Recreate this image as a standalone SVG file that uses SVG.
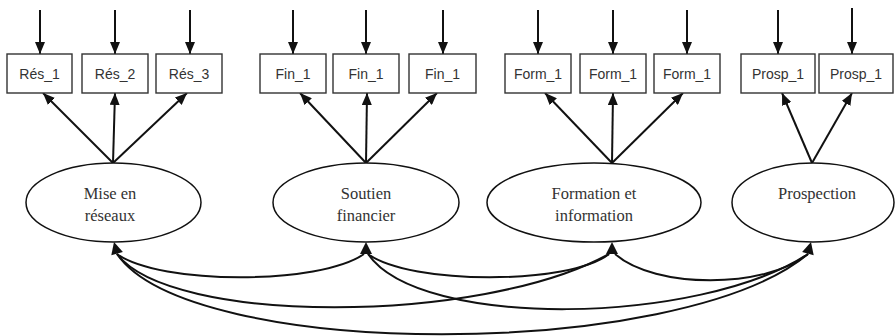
<svg xmlns="http://www.w3.org/2000/svg" xmlns:xlink="http://www.w3.org/1999/xlink" width="896" height="336" viewBox="0 0 896 336">
<style>
.box{fill:#fff;stroke:#333;stroke-width:1.4}
.lbl{font-family:"Liberation Sans",Arial,sans-serif;font-size:14px;fill:#333;text-anchor:middle}
.ell{fill:#fff;stroke:#111;stroke-width:1.5}
.elbl{font-family:"Liberation Serif","Times New Roman",serif;font-size:16.5px;fill:#333;text-anchor:middle}
.arr{stroke:#111;stroke-width:2;fill:none;marker-end:url(#ah)}
.cov{stroke:#111;stroke-width:2;fill:none}
.tri{fill:#111}
</style>
<defs>
<marker id="ah" viewBox="0 0 12 10" refX="12" refY="5" markerWidth="12" markerHeight="10" orient="auto" markerUnits="userSpaceOnUse">
<path d="M0,0 L12,5 L0,10 z" fill="#111"/>
</marker>
<path id="head" d="M0,0 L-6,12 L6,12 z"/>
</defs>

<g id="connectors">
<!-- error arrows -->
<line class="arr" x1="40" y1="10" x2="40" y2="54"/>
<line class="arr" x1="115" y1="10" x2="115" y2="54"/>
<line class="arr" x1="190" y1="10" x2="190" y2="54"/>
<line class="arr" x1="293" y1="10" x2="293" y2="54"/>
<line class="arr" x1="366" y1="10" x2="366" y2="54"/>
<line class="arr" x1="443" y1="10" x2="443" y2="54"/>
<line class="arr" x1="538" y1="10" x2="538" y2="54"/>
<line class="arr" x1="613" y1="10" x2="613" y2="54"/>
<line class="arr" x1="687" y1="10" x2="687" y2="54"/>
<line class="arr" x1="778" y1="10" x2="778" y2="54"/>
<line class="arr" x1="852" y1="8" x2="852" y2="54"/>
<!-- loadings -->
<line class="arr" x1="113" y1="163" x2="43" y2="93"/>
<line class="arr" x1="113" y1="163" x2="115" y2="93"/>
<line class="arr" x1="113" y1="163" x2="187" y2="93"/>
<line class="arr" x1="366" y1="163" x2="300" y2="93"/>
<line class="arr" x1="366" y1="163" x2="367" y2="93"/>
<line class="arr" x1="366" y1="163" x2="437" y2="93"/>
<line class="arr" x1="612" y1="163" x2="545" y2="93"/>
<line class="arr" x1="612" y1="163" x2="613" y2="93"/>
<line class="arr" x1="612" y1="163" x2="683" y2="93"/>
<line class="arr" x1="812" y1="163" x2="782" y2="93"/>
<line class="arr" x1="812" y1="163" x2="852" y2="93"/>
<!-- covariances -->
<path class="cov" d="M117,254 C160,285 320,285 364,254"/>
<path class="cov" d="M368,254 C410,285 570,285 609,254"/>
<path class="cov" d="M615,254 C655,289 765,289 808,254"/>
<path class="cov" d="M117,254 C170,325 480,325 609,254"/>
<path class="cov" d="M368,254 C420,330 700,325 808,254"/>
<path class="cov" d="M117,254 C190,361 680,361 808,254"/>
<use xlink:href="#head" class="tri" transform="translate(114,242) rotate(-15)"/>
<use xlink:href="#head" class="tri" transform="translate(366,242)"/>
<use xlink:href="#head" class="tri" transform="translate(612,242)"/>
<use xlink:href="#head" class="tri" transform="translate(811,242) rotate(15)"/>
</g>

<g id="res1"><rect class="box" x="7" y="54" width="65" height="39"/><text class="lbl" x="39.5" y="79">Rés_1</text></g>
<g id="res2"><rect class="box" x="82" y="54" width="66" height="39"/><text class="lbl" x="115" y="79">Rés_2</text></g>
<g id="res3"><rect class="box" x="156" y="54" width="66" height="39"/><text class="lbl" x="189" y="79">Rés_3</text></g>
<g id="fin1"><rect class="box" x="260" y="54" width="66" height="39"/><text class="lbl" x="293" y="79">Fin_1</text></g>
<g id="fin2"><rect class="box" x="333" y="54" width="66" height="39"/><text class="lbl" x="366" y="79">Fin_1</text></g>
<g id="fin3"><rect class="box" x="409" y="54" width="67" height="39"/><text class="lbl" x="442.5" y="79">Fin_1</text></g>
<g id="form1"><rect class="box" x="505" y="54" width="66" height="39"/><text class="lbl" x="538" y="79">Form_1</text></g>
<g id="form2"><rect class="box" x="580" y="54" width="66" height="39"/><text class="lbl" x="613" y="79">Form_1</text></g>
<g id="form3"><rect class="box" x="654" y="54" width="66" height="39"/><text class="lbl" x="687" y="79">Form_1</text></g>
<g id="prosp1"><rect class="box" x="741" y="54" width="74" height="39"/><text class="lbl" x="778" y="79">Prosp_1</text></g>
<g id="prosp2"><rect class="box" x="819" y="54" width="74" height="39"/><text class="lbl" x="856" y="79">Prosp_1</text></g>

<g id="mise"><ellipse class="ell" cx="113.5" cy="202.5" rx="87.5" ry="39.5"/><text class="elbl" x="110" y="199">Mise en</text><text class="elbl" x="110" y="221">réseaux</text></g>
<g id="soutien"><ellipse class="ell" cx="366" cy="202.5" rx="93" ry="39.5"/><text class="elbl" x="366" y="199">Soutien</text><text class="elbl" x="366" y="221">financier</text></g>
<g id="formation"><ellipse class="ell" cx="594" cy="202.5" rx="107" ry="39.5"/><text class="elbl" x="594" y="199">Formation et</text><text class="elbl" x="594" y="221">information</text></g>
<g id="prospection"><ellipse class="ell" cx="813" cy="202.5" rx="81" ry="39.5"/><text class="elbl" x="817" y="199">Prospection</text></g>
</svg>
